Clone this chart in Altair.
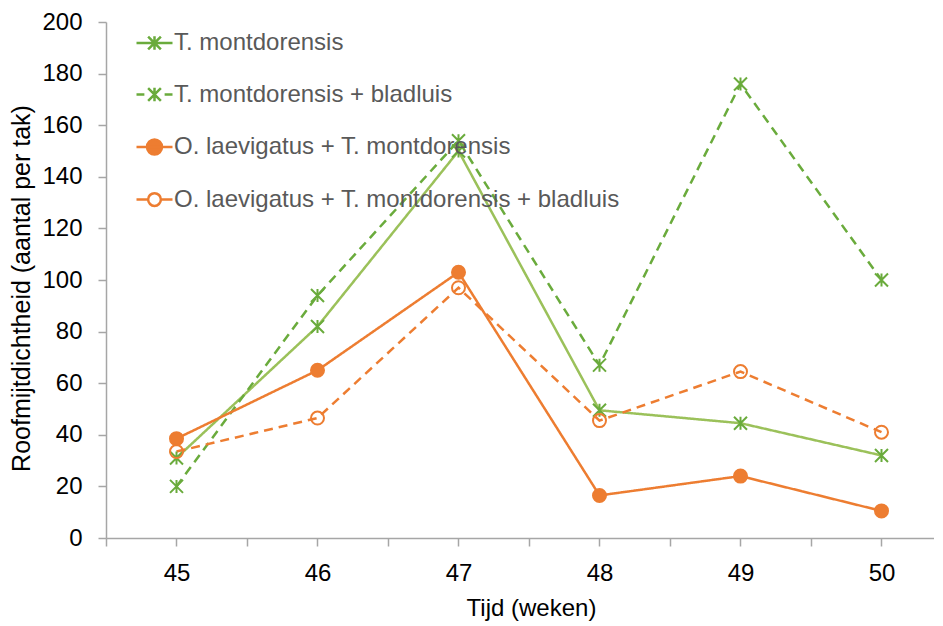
import altair as alt
import pandas as pd

# ---- data ----
weeks = [45, 46, 47, 48, 49, 50]
series_names = [
    "T. montdorensis",
    "T. montdorensis + bladluis",
    "O. laevigatus + T. montdorensis",
    "O. laevigatus + T. montdorensis + bladluis",
]
tm = [31, 82, 150, 49.5, 44.5, 32]
tm_bl = [20, 94, 154, 67, 176, 100]
ol_tm = [38.5, 65, 103, 16.5, 24, 10.5]
ol_tm_bl = [33.5, 46.5, 97, 45.5, 64.5, 41]
y_ticks = [0, 20, 40, 60, 80, 100, 120, 140, 160, 180, 200]

rows = []
for name, vals in zip(series_names, [tm, tm_bl, ol_tm, ol_tm_bl]):
    for w, v in zip(weeks, vals):
        rows.append({"week": w, "series": name, "value": v})
df = pd.DataFrame(rows)

# ---- styles ----
line_colors = ["#9bc15a", "#6aab3c", "#ed7d31", "#ed7d31"]
marker_colors = ["#6aab3c", "#6aab3c", "#ed7d31", "#ed7d31"]
fill_colors = ["transparent", "transparent", "#ed7d31", "transparent"]
dashes = [[1, 0], [9, 6], [1, 0], [9, 6]]
ast = "M-1,-1L1,1M-1,1L1,-1M0,-1V1"
marker_shapes = [ast, ast, "circle", "circle"]
marker_sizes = [169, 169, 225, 180]

leg_ast = "M-0.85,-0.85L0.85,0.85M-0.85,0.85L0.85,-0.85M0,-0.9V0.9"
legend_shapes = [
    "M-2.4,0H2.4" + leg_ast,
    "M-2.4,0H-1.35M1.35,0H2.4" + leg_ast,
    "M-2.4,0H2.4M1,0A1,1 0 1,1 -1,0A1,1 0 1,1 1,0",
    "M-2.4,0H-0.85M0.85,0H2.4M0.85,0A0.85,0.85 0 1,1 -0.85,0A0.85,0.85 0 1,1 0.85,0",
]

FONT = "Liberation Sans"
AXIS_GREY = "#a6a6a6"
W, H = 828, 516
STEP = 141.0

x_enc = alt.X(
    "week:Q",
    scale=alt.Scale(domain=[44.5, 44.5 + W / STEP], nice=False, zero=False),
    axis=alt.Axis(
        values=[44.5, 45, 45.5, 46, 46.5, 47, 47.5, 48, 48.5, 49, 49.5, 50],
        labelExpr="datum.value % 1 == 0 ? format(datum.value, 'd') : ''",
        labelOverlap=False,
        labelFlush=False,
        tickSize=8,
        tickWidth=1.5,
        tickColor=AXIS_GREY,
        domainColor=AXIS_GREY,
        domainWidth=1.5,
        labelFont=FONT,
        labelFontSize=24,
        labelColor="black",
        labelPadding=15,
        grid=False,
        title="Tijd (weken)",
        titleFont=FONT,
        titleFontSize=24,
        titleFontWeight="normal",
        titleColor="black",
        titleX=425,
        titleY=77,
        titleAlign="center",
        titleBaseline="alphabetic",
    ),
)
y_enc = alt.Y(
    "value:Q",
    scale=alt.Scale(domain=[0, 200], nice=False),
    axis=alt.Axis(
        values=y_ticks,
        tickSize=8,
        tickWidth=1.5,
        tickColor=AXIS_GREY,
        domainColor=AXIS_GREY,
        domainWidth=1.5,
        labelFont=FONT,
        labelFontSize=24,
        labelColor="black",
        labelPadding=16,
        grid=False,
        title="Roofmijtdichtheid (aantal per tak)",
        titleFont=FONT,
        titleFontSize=25,
        titleFontWeight="normal",
        titleColor="black",
        titleAngle=270,
        titleX=-85,
        titleY=266,
        titleAlign="center",
        titleBaseline="middle",
    ),
)

base = alt.Chart(df)

lines = base.mark_line(strokeWidth=2.5).encode(
    x=x_enc,
    y=y_enc,
    detail="series:N",
    stroke=alt.Stroke("series:N", scale=alt.Scale(domain=series_names, range=line_colors), legend=None),
    strokeDash=alt.StrokeDash("series:N", scale=alt.Scale(domain=series_names, range=dashes), legend=None),
)

points = base.mark_point(strokeWidth=2, opacity=1).encode(
    x="week:Q",
    y="value:Q",
    shape=alt.Shape("series:N", scale=alt.Scale(domain=series_names, range=marker_shapes), legend=None),
    stroke=alt.Stroke("series:N", scale=alt.Scale(domain=series_names, range=marker_colors), legend=None),
    fill=alt.Fill("series:N", scale=alt.Scale(domain=series_names, range=fill_colors), legend=None),
    size=alt.Size("series:N", scale=alt.Scale(domain=series_names, range=marker_sizes), legend=None),
)

legend_layer = base.transform_filter("false").mark_point(strokeWidth=2.5, size=225, opacity=1).encode(
    x="week:Q",
    y="value:Q",
    shape=alt.Shape("series:N", scale=alt.Scale(domain=series_names, range=legend_shapes), legend=alt.Legend(title=None)),
    stroke=alt.Stroke("series:N", scale=alt.Scale(domain=series_names, range=marker_colors), legend=alt.Legend(title=None)),
    fill=alt.Fill("series:N", scale=alt.Scale(domain=series_names, range=fill_colors), legend=alt.Legend(title=None)),
)

chart = (
    alt.layer(lines, points, legend_layer)
    .resolve_scale(shape="independent", stroke="independent", fill="independent", size="independent", strokeDash="independent")
    .properties(
        width=W,
        height=H,
        padding={"left": 98, "top": 14, "right": 0, "bottom": 84},
        autosize=alt.AutoSizeParams(type="none"),
    )
    .configure_view(stroke=None)
    .configure_legend(
        orient="none",
        legendX=36.5,
        legendY=9,
        direction="vertical",
        padding=0,
        labelFont=FONT,
        labelFontSize=24,
        labelColor="#595959",
        labelOffset=7.5,
        rowPadding=27.5,
        symbolSize=225,
        symbolStrokeWidth=2.5,
        labelLimit=0,
    )
)

chart.save("out.html", embed_options={"renderer": "svg", "actions": False})
